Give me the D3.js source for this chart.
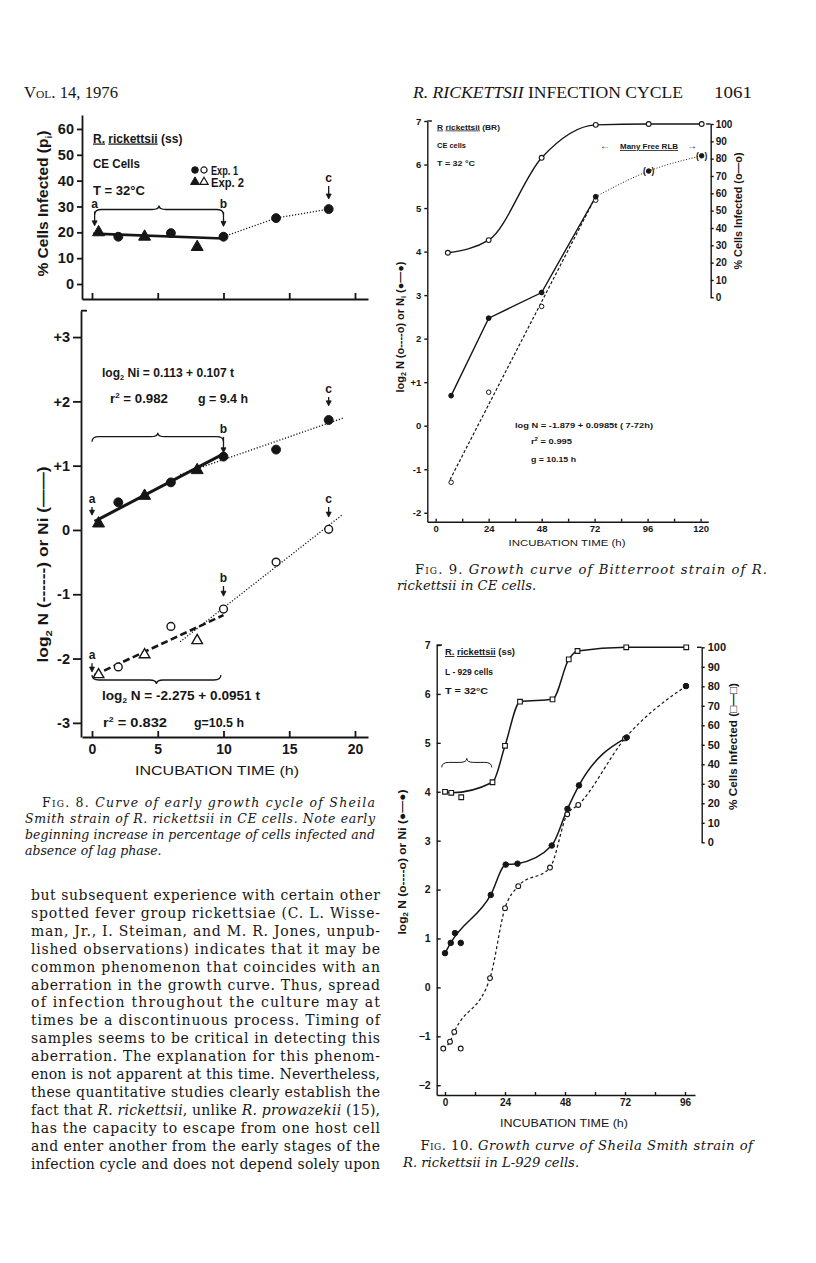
<!DOCTYPE html>
<meta charset="utf-8">
<style>
body { margin: 0; background: #fff; }
</style>
<body>
<script src="https://cdnjs.cloudflare.com/ajax/libs/d3/7.8.5/d3.min.js"></script>
<script>

// ---------- data ----------

// Fig. 8 : early growth cycle, Sheila Smith strain in CE cells
var f8_t    = [0.5, 2, 4, 6, 8, 10, 14, 18];
var f8_exp  = [2, 1, 2, 1, 2, 1, 1, 1];              // 1 = circles, 2 = triangles
var f8_pct  = [20, 18.3, 18.3, 19.7, 14.3, 18.3, 25.5, 29];
var f8_ni   = [0.10, 0.43, 0.53, 0.74, 0.93, 1.14, 1.25, 1.71];
var f8_n    = [-2.25, -2.13, -1.94, -1.50, -1.72, -1.23, -0.50, 0.01];
var f8_pct_fit = [[0.1, 19.5], [10, 17.6]];
var f8_ni_fit  = [0.113, 0.107];
var f8_n_fit   = [-2.275, 0.0951];
var f8_fit_t   = [0.2, 10];
var f8_ni_dots = [[6.7, 0.86], [19.1, 1.74]];
var f8_n_dots  = [[6.7, -1.74], [19.0, 0.23]];
var f8_xticks   = [0, 5, 10, 15, 20];
var f8_pctticks = [0, 10, 20, 30, 40, 50, 60];
var f8_logticks = [-3, -2, -1, 0, 1, 2, 3];
// letter, t, value at label, value at arrow tip
var f8_marks_pct = [["a", 0.2, 29.6, 22.5], ["b", 10, 29.4, 22.3], ["c", 18, 39.5, 32.9]];
var f8_marks_ni  = [["a", 0, 0.42, 0.23], ["b", 10, 1.51, 1.20], ["c", 18, 2.13, 1.93]];
var f8_marks_n   = [["a", 0, -2.01, -2.21], ["b", 10, -0.81, -1.03], ["c", 18, 0.42, 0.20]];

// Fig. 9 : Bitterroot strain in CE cells
var f9_pct_t = [5.5, 24, 48, 72.5, 96.5, 120.5];
var f9_pct   = [25.7, 33, 80.5, 99.5, 100, 100];
var f9_t     = [7, 24, 48, 72.5];
var f9_ni    = [0.69, 2.47, 3.06, 5.26];
var f9_n     = [-1.30, 0.77, 2.74, 5.18];
var f9_late_t = [96.5, 120.5];
var f9_late   = [5.85, 6.2];
var f9_fit   = [-1.879, 0.0985];
var f9_fit_t = [6.5, 72.5];

// Fig. 10 : Sheila Smith strain in L-929 cells
var f10_pct_t = [0, 2.5, 6.5, 19, 24, 30, 43, 49.5, 53, 72.5, 96.5];
var f10_pct   = [25.9, 25.4, 23.1, 30.8, 49.5, 72.1, 73.3, 93.8, 98.1, 100, 100];
var f10_pct_on = [1, 1, 0, 1, 1, 1, 1, 1, 1, 1, 1];
var f10_ni_t = [0, 2.3, 4, 6.3, 18.3, 24.3, 29, 42.7, 49, 53.6, 72.7, 96.4];
var f10_ni   = [0.70, 0.91, 1.11, 0.91, 1.89, 2.51, 2.53, 2.90, 3.65, 4.13, 5.11, 6.16];
var f10_ni_on = [1, 1, 0, 0, 1, 1, 1, 1, 1, 1, 1, 0];
var f10_n_t  = [-0.7, 2, 3.7, 6.3, 18, 24, 29.3, 42, 48.9, 53.3, 72, 96.4];
var f10_n    = [-1.25, -1.11, -0.91, -1.25, 0.19, 1.62, 2.07, 2.45, 3.54, 3.73, 5.09, 6.16];
var f10_n_on = [1, 1, 1, 0, 1, 1, 1, 1, 1, 1, 1, 1];

// page text
var cap8 = ["Fig.|8.|Curve of early growth cycle of Sheila",
            "Smith strain of R. rickettsii in CE cells. Note early",
            "beginning increase in percentage of cells infected and",
            "absence of lag phase."];
var cap9 = ["Fig.|9.|Growth curve of Bitterroot strain of R.",
            "rickettsii in CE cells."];
var cap10 = ["Fig.|10.|Growth curve of Sheila Smith strain of",
             "R. rickettsii in L-929 cells."];
var body_lines = [
  "but subsequent experience with certain other",
  "spotted fever group rickettsiae (C. L. Wisse-",
  "man, Jr., I. Steiman, and M. R. Jones, unpub-",
  "lished observations) indicates that it may be",
  "common phenomenon that coincides with an",
  "aberration in the growth curve. Thus, spread",
  "of infection throughout the culture may at",
  "times be a discontinuous process. Timing of",
  "samples seems to be critical in detecting this",
  "aberration. The explanation for this phenom-",
  "enon is not apparent at this time. Nevertheless,",
  "these quantitative studies clearly establish the",
  "fact that *R. rickettsii*, unlike *R. prowazekii* (15),",
  "has the capacity to escape from one host cell",
  "and enter another from the early stages of the",
  "infection cycle and does not depend solely upon"];

// ---------- setup ----------
var ink = "#161616",
    sans = "'Liberation Sans', Arial, sans-serif",
    serif = "'DejaVu Serif', serif";

var svg = d3.select("body").append("svg")
    .attr("width", 816)
    .attr("height", 1263);

function txt(g, x, y, html, size, opt) {
  opt = opt || {};
  var t = g.append("text")
      .attr("x", x).attr("y", y)
      .attr("font-family", opt.family || sans)
      .attr("font-size", size)
      .attr("font-weight", opt.weight || "normal")
      .attr("text-anchor", opt.anchor || "start")
      .attr("fill", ink)
      .html(html);
  if (opt.len) t.attr("textLength", opt.len).attr("lengthAdjust", opt.adjust || "spacingAndGlyphs");
  if (opt.rot) t.attr("transform", "rotate(-90," + x + "," + y + ")");
  if (opt.italic) t.attr("font-style", "italic");
  return t;
}

function styleAxis(g, size, weight, sw) {
  g.attr("font-family", sans).attr("font-size", size).attr("font-weight", weight);
  g.selectAll("path, line").attr("stroke", ink).attr("stroke-width", sw);
  g.selectAll("text").attr("fill", ink);
}

function pairs(xs, ys, keep) {
  var out = [];
  xs.forEach(function(t, i) { if (!keep || keep[i]) out.push([t, ys[i]]); });
  return out;
}

function drawLine(g, data, sx, sy, w, dash, curve) {
  var line = d3.line()
      .x(function(d) { return sx(d[0]); })
      .y(function(d) { return sy(d[1]); })
      .curve(curve || d3.curveLinear);
  g.append("path")
      .attr("d", line(data))
      .attr("fill", "none")
      .attr("stroke", ink)
      .attr("stroke-width", w)
      .attr("stroke-dasharray", dash || null);
}

function drawPoints(g, data, sx, sy, shape, filled, size, sw) {
  g.selectAll(null)
    .data(data)
    .enter().append("path")
      .attr("transform", function(d) { return "translate(" + sx(d[0]) + "," + sy(d[1]) + ")"; })
      .attr("d", function(d, i) { return d3.symbol().type(shape(d, i)).size(size)(); })
      .attr("fill", function(d, i) { return filled(d, i) ? ink : "#fff"; })
      .attr("stroke", ink)
      .attr("stroke-width", sw);
}

// curly brace, s = 1 : ends bend down, centre points up
function brace(g, x1, x2, y, s, w) {
  var xm = (x1 + x2) / 2;
  var p = "M" + x1 + "," + (y + 5 * s) +
          "Q" + x1 + "," + y + " " + (x1 + 7) + "," + y +
          "L" + (xm - 7) + "," + y +
          "Q" + xm + "," + y + " " + xm + "," + (y - 4 * s) +
          "Q" + xm + "," + y + " " + (xm + 7) + "," + y +
          "L" + (x2 - 7) + "," + y +
          "Q" + x2 + "," + y + " " + x2 + "," + (y + 5 * s);
  g.append("path").attr("d", p).attr("fill", "none").attr("stroke", ink).attr("stroke-width", w);
}

function marks(g, list, sx, sy) {
  list.forEach(function(m) {
    var x = sx(m[1]), y0 = sy(m[2]), tip = sy(m[3]);
    txt(g, x, y0, m[0], 12, {anchor: "middle", weight: "bold"});
    g.append("line").attr("x1", x).attr("x2", x).attr("y1", y0 + 4).attr("y2", tip - 3)
        .attr("stroke", ink).attr("stroke-width", 1.3);
    g.append("path").attr("d", "M" + (x - 2.5) + "," + (tip - 5) + "L" + x + "," + tip + "L" + (x + 2.5) + "," + (tip - 5) + "Z")
        .attr("fill", ink).attr("stroke", ink).attr("stroke-width", 0.8);
  });
}

// ---------- running head ----------
txt(svg, 24, 98, '<tspan font-variant="small-caps">Vol.</tspan> 14, 1976', 16,
    {family: "'Liberation Serif', serif", len: 94});
txt(svg, 413, 98, '<tspan font-style="italic">R. RICKETTSII</tspan> INFECTION CYCLE', 16,
    {family: "'Liberation Serif', serif", len: 270});
txt(svg, 714, 98, "1061", 17, {family: "'Liberation Serif', serif", len: 38});

// ---------- Fig. 8 ----------
var g8 = svg.append("g");
var x8  = d3.scaleLinear().domain([-0.76, 20.99]).range([82, 368]);
var y8a = d3.scaleLinear().domain([-5.8, 65.4]).range([299, 115]);
var y8b = d3.scaleLinear().domain([-3.22, 3.41]).range([737, 310.7]);

g8.append("g").attr("transform", "translate(0,299)")
    .call(d3.axisBottom(x8).tickValues(f8_xticks).tickSize(-6).tickSizeOuter(0).tickFormat(""))
    .call(styleAxis, 14, "bold", 1.8);
g8.append("g").attr("transform", "translate(82,0)")
    .call(d3.axisLeft(y8a).tickValues(f8_pctticks).tickSize(5).tickSizeOuter(0).tickPadding(3))
    .call(styleAxis, 14.5, "bold", 1.8);

g8.append("g").attr("transform", "translate(0,737)")
    .call(d3.axisBottom(x8).tickValues(f8_xticks).tickSize(-6).tickSizeOuter(0).tickPadding(7))
    .call(styleAxis, 14, "bold", 1.8);
g8.append("g").attr("transform", "translate(81,0)")
    .call(d3.axisLeft(y8b).tickValues(f8_logticks).tickSize(8).tickSizeOuter(0).tickPadding(3)
      .tickFormat(function(d) { return d > 0 ? "+" + d : String(d); }))
    .call(styleAxis, 14.5, "bold", 1.8);
g8.append("line").attr("x1", 81).attr("x2", 87).attr("y1", y8b.range()[1]).attr("y2", y8b.range()[1])
    .attr("stroke", ink).attr("stroke-width", 1.8);

// axis titles
txt(g8, 48, 203.5, '% Cells Infected (p<tspan font-size="65%" dy="4">i</tspan><tspan dy="-4">)</tspan>', 15,
    {anchor: "middle", weight: "bold", rot: true, len: 146});
txt(g8, 48, 564.5, 'log<tspan font-size="65%" dy="4">2</tspan><tspan dy="-4"> N (------) or Ni (——)</tspan>', 15,
    {anchor: "middle", weight: "bold", rot: true, len: 196});
txt(g8, 217, 775, "INCUBATION TIME (h)", 13.5, {anchor: "middle", len: 164});

// upper panel text
txt(g8, 93, 142.5, '<tspan text-decoration="underline">R.</tspan> <tspan text-decoration="underline">rickettsii</tspan> (ss)', 12, {weight: "bold"});
txt(g8, 93, 167.5, "CE Cells", 12.5, {weight: "bold", len: 47});
txt(g8, 93, 194.5, "T = 32°C", 12.5, {weight: "bold", len: 52});
var leg = [[1, 170, "Exp. 1"], [2, 182, "Exp. 2"]];
leg.forEach(function(l) {
  var shp = l[0] === 1 ? d3.symbolCircle : d3.symbolTriangle;
  g8.append("path").attr("transform", "translate(195," + l[1] + ")").attr("d", d3.symbol().type(shp).size(34)())
      .attr("fill", ink).attr("stroke", ink);
  g8.append("path").attr("transform", "translate(204," + l[1] + ")").attr("d", d3.symbol().type(shp).size(30)())
      .attr("fill", "#fff").attr("stroke", ink).attr("stroke-width", 1.2);
  txt(g8, 211, l[1] + 4.5, l[2], 12, {weight: "bold", len: l[0] === 1 ? 27 : 33});
});

var shapeExp = function(d, i) { return f8_exp[i] === 1 ? d3.symbolCircle : d3.symbolTriangle; };

// upper panel lines and points
drawLine(g8, f8_pct_fit, x8, y8a, 2.6);
drawLine(g8, pairs(f8_t, f8_pct).slice(5), x8, y8a, 1.3, "1.2,1.8");
drawPoints(g8, pairs(f8_t, f8_pct), x8, y8a, shapeExp, function() { return true; }, 62, 1);
brace(g8, x8(0.2), x8(10), 209.5, 1, 1.3);
marks(g8, f8_marks_pct, x8, y8a);

// lower panel
drawLine(g8, f8_fit_t.map(function(t) { return [t, f8_ni_fit[0] + f8_ni_fit[1] * t]; }), x8, y8b, 3);
drawLine(g8, f8_fit_t.map(function(t) { return [t, f8_n_fit[0] + f8_n_fit[1] * t]; }), x8, y8b, 2.6, "7,3.5");
drawLine(g8, f8_ni_dots, x8, y8b, 1.3, "1.2,1.8");
drawLine(g8, f8_n_dots, x8, y8b, 1.3, "1.2,1.8");
drawPoints(g8, pairs(f8_t, f8_ni), x8, y8b, shapeExp, function() { return true; }, 62, 1);
drawPoints(g8, pairs(f8_t, f8_n), x8, y8b, shapeExp, function() { return false; }, 48, 1.4);
brace(g8, x8(0), x8(10), 436.7, 1, 1.3);
brace(g8, x8(0), x8(9.8), 680, -1, 1.3);
marks(g8, f8_marks_ni, x8, y8b);
marks(g8, f8_marks_n, x8, y8b);

txt(g8, 102, 376.5, 'log<tspan font-size="60%" dy="3">2</tspan><tspan dy="-3"> Ni = 0.113 + 0.107 t</tspan>', 12.5, {weight: "bold", len: 132});
txt(g8, 110, 403, 'r<tspan font-size="60%" dy="-5">2</tspan><tspan dy="5"> = 0.982</tspan>', 12.5, {weight: "bold", len: 58});
txt(g8, 198, 403, "g = 9.4 h", 12.5, {weight: "bold", len: 50});
txt(g8, 102, 700, 'log<tspan font-size="60%" dy="3">2</tspan><tspan dy="-3"> N = -2.275 + 0.0951 t</tspan>', 12.5, {weight: "bold", len: 158});
txt(g8, 103, 727, 'r<tspan font-size="60%" dy="-5">2</tspan><tspan dy="5"> = 0.832</tspan>', 12.5, {weight: "bold", len: 64});
txt(g8, 194, 727, "g=10.5 h", 12.5, {weight: "bold", len: 50});

// ---------- Fig. 9 ----------
var g9 = svg.append("g");
var x9  = d3.scaleLinear().domain([-3.8, 123.5]).range([427.3, 708.3]);
var y9  = d3.scaleLinear().domain([-2.205, 7]).range([521.7, 121]);
var y9p = d3.scaleLinear().domain([0, 100]).range([297.3, 124]);

g9.append("g").attr("transform", "translate(0,521.7)")
    .call(d3.axisBottom(x9).tickValues(d3.range(0, 121, 12)).tickSize(-3).tickSizeOuter(0).tickPadding(4)
      .tickFormat(function(d) { return d % 24 === 0 ? d : ""; }))
    .call(styleAxis, 9.5, "bold", 1.4);
g9.append("g").attr("transform", "translate(427.3,0)")
    .call(d3.axisLeft(y9).tickValues(d3.range(-2, 8)).tickSize(3).tickSizeOuter(0).tickPadding(3)
      .tickFormat(function(d) { return d === 1 ? "+1" : String(d); }))
    .call(styleAxis, 9.5, "bold", 1.4);
g9.append("line").attr("x1", 427.3).attr("x2", 432).attr("y1", 121).attr("y2", 121).attr("stroke", ink).attr("stroke-width", 1.4);
g9.append("g").attr("transform", "translate(710.7,0)")
    .call(d3.axisRight(y9p).tickValues(d3.range(0, 101, 10)).tickSize(3).tickSizeOuter(0).tickPadding(2))
    .call(styleAxis, 10, "bold", 1.4);
g9.append("line").attr("x1", 706).attr("x2", 710.7).attr("y1", 124).attr("y2", 124).attr("stroke", ink).attr("stroke-width", 1.4);

txt(g9, 404, 327, 'log<tspan font-size="65%" dy="2">2</tspan><tspan dy="-2"> N (o----o) or N</tspan><tspan font-size="65%" dy="2">i</tspan><tspan dy="-2"> (●—●)</tspan>', 10.5,
    {anchor: "middle", weight: "bold", rot: true, len: 131});
txt(g9, 742, 211, "% Cells Infected (o—o)", 11, {anchor: "middle", weight: "bold", rot: true, len: 117});
txt(g9, 567, 546, "INCUBATION TIME (h)", 9.5, {anchor: "middle", len: 117});

txt(g9, 437, 129.5, '<tspan text-decoration="underline">R</tspan> <tspan text-decoration="underline">rickettsii</tspan> (BR)', 7.5, {weight: "bold", len: 63});
txt(g9, 437, 148, "CE cells", 7.5, {weight: "bold", len: 29});
txt(g9, 437, 165.5, "T = 32 °C", 7.5, {weight: "bold", len: 38});
txt(g9, 605, 149, "←", 10, {anchor: "middle", weight: "bold"});
txt(g9, 649, 149, '<tspan text-decoration="underline">Many Free RLB</tspan>', 8, {anchor: "middle", weight: "bold", len: 58});
txt(g9, 692, 149, "→", 10, {anchor: "middle", weight: "bold"});

txt(g9, 515, 428, "log N = -1.879 + 0.0985t ( 7-72h)", 7.5, {weight: "bold", len: 138});
txt(g9, 531, 444, 'r<tspan font-size="65%" dy="-3">2</tspan><tspan dy="3"> = 0.995</tspan>', 7.5, {weight: "bold", len: 41});
txt(g9, 531, 461.5, "g = 10.15 h", 7.5, {weight: "bold", len: 45});

drawLine(g9, pairs(f9_pct_t, f9_pct), x9, y9p, 1.4, null, d3.curveMonotoneX);
drawLine(g9, pairs(f9_t, f9_ni), x9, y9, 1.4);
drawLine(g9, [[f9_t[3], f9_ni[3]]].concat(pairs(f9_late_t, f9_late)), x9, y9, 1, "1,1.8", d3.curveMonotoneX);
drawLine(g9, f9_fit_t.map(function(t) { return [t, f9_fit[0] + f9_fit[1] * t]; }), x9, y9, 1.2, "3,2");
drawPoints(g9, pairs(f9_pct_t, f9_pct), x9, y9p, function() { return d3.symbolCircle; }, function() { return false; }, 18, 1.1);
drawPoints(g9, pairs(f9_t, f9_n), x9, y9, function() { return d3.symbolCircle; }, function() { return false; }, 16, 1);
drawPoints(g9, pairs(f9_t, f9_ni), x9, y9, function() { return d3.symbolCircle; }, function() { return true; }, 18, 1);
drawPoints(g9, pairs(f9_late_t, f9_late), x9, y9, function() { return d3.symbolCircle; }, function() { return true; }, 16, 1);
f9_late_t.forEach(function(t, i) {
  txt(g9, x9(t) - 4.2, y9(f9_late[i]) + 3, "(", 8.5, {anchor: "middle", weight: "bold"});
  txt(g9, x9(t) + 4.2, y9(f9_late[i]) + 3, ")", 8.5, {anchor: "middle", weight: "bold"});
});

// ---------- Fig. 10 ----------
var g10 = svg.append("g");
var x10  = d3.scaleLinear().domain([-3.32, 100]).range([436.7, 695]);
var y10  = d3.scaleLinear().domain([-2.2, 7]).range([1095, 645]);
var y10p = d3.scaleLinear().domain([0, 100]).range([842.3, 647.3]);

g10.append("g").attr("transform", "translate(0,1095)")
    .call(d3.axisBottom(x10).tickValues(d3.range(0, 97, 12)).tickSize(-3).tickSizeOuter(0).tickPadding(4)
      .tickFormat(function(d) { return d % 24 === 0 ? d : ""; }))
    .call(styleAxis, 10, "bold", 1.4);
g10.append("g").attr("transform", "translate(436.7,0)")
    .call(d3.axisLeft(y10).tickValues(d3.range(-2, 8)).tickSize(-4).tickSizeOuter(0).tickPadding(6))
    .call(styleAxis, 10.5, "bold", 1.4);
g10.append("line").attr("x1", 436.7).attr("x2", 442).attr("y1", 645).attr("y2", 645).attr("stroke", ink).attr("stroke-width", 1.4);
g10.append("g").attr("transform", "translate(701.7,0)")
    .call(d3.axisRight(y10p).tickValues(d3.range(0, 101, 10)).tickSize(3).tickSizeOuter(0).tickPadding(3))
    .call(styleAxis, 11, "bold", 1.4);
g10.append("line").attr("x1", 697).attr("x2", 701.7).attr("y1", 647.3).attr("y2", 647.3).attr("stroke", ink).attr("stroke-width", 1.4);

txt(g10, 406, 862, 'log<tspan font-size="65%" dy="2">2</tspan><tspan dy="-2"> N (o----o) or Ni (●—●)</tspan>', 11,
    {anchor: "middle", weight: "bold", rot: true, len: 145});
txt(g10, 737, 746.5, "% Cells Infected (□—□)", 11.5, {anchor: "middle", weight: "bold", rot: true, len: 127});
txt(g10, 564, 1127, "INCUBATION TIME (h)", 10.5, {anchor: "middle", len: 128});

txt(g10, 445, 655, '<tspan text-decoration="underline">R.</tspan> <tspan text-decoration="underline">rickettsii</tspan> (ss)', 9, {weight: "bold", len: 70});
txt(g10, 445, 674.5, "L - 929 cells", 9, {weight: "bold", len: 48});
txt(g10, 445, 694, "T  = 32°C", 9, {weight: "bold", len: 43});

brace(g10, x10(-1.3), x10(18.7), y10(4.6), 1, 1);

drawLine(g10, pairs(f10_pct_t, f10_pct, f10_pct_on), x10, y10p, 1.5, null, d3.curveMonotoneX);
drawLine(g10, pairs(f10_ni_t, f10_ni, f10_ni_on), x10, y10, 1.5, null, d3.curveMonotoneX);
drawLine(g10, pairs(f10_n_t, f10_n, f10_n_on), x10, y10, 1.2, "3,2.5", d3.curveMonotoneX);
drawPoints(g10, pairs(f10_pct_t, f10_pct), x10, y10p, function() { return d3.symbolSquare; }, function() { return false; }, 22, 1.1);
drawPoints(g10, pairs(f10_n_t, f10_n), x10, y10, function() { return d3.symbolCircle; }, function() { return false; }, 18, 1.1);
drawPoints(g10, pairs(f10_ni_t, f10_ni), x10, y10, function() { return d3.symbolCircle; }, function() { return true; }, 24, 1);

// ---------- captions and body text ----------
function caption(g, lines, x0, x1, indent, y0, step, size) {
  lines.forEach(function(line, i) {
    var parts = line.split("|");
    var x = i === 0 ? x0 + indent : x0;
    var html;
    if (parts.length === 3) {
      html = '<tspan font-variant="small-caps">' + parts[0] + '</tspan> ' + parts[1] +
             ' <tspan font-style="italic">' + parts[2] + '</tspan>';
    } else {
      html = '<tspan font-style="italic">' + line + '</tspan>';
    }
    var t = txt(g, x, y0 + i * step, html, size, {family: serif});
    if (i < lines.length - 1)
      t.attr("textLength", x1 - x).attr("lengthAdjust", "spacing");
  });
}
caption(svg, cap8, 25, 375, 17, 807, 16, 12.5);
caption(svg, cap9, 397, 767, 18, 573.5, 16.5, 13.2);
caption(svg, cap10, 403, 753, 17.5, 1150, 16.5, 13.2);

body_lines.forEach(function(line, i) {
  var html = line.split("*").map(function(s, k) {
    return k % 2 ? '<tspan font-style="italic">' + s + '</tspan>' : s;
  }).join("");
  txt(svg, 31, 900 + i * 17.9, html, 14, {family: serif, len: 349, adjust: "spacing"});
});

</script>
